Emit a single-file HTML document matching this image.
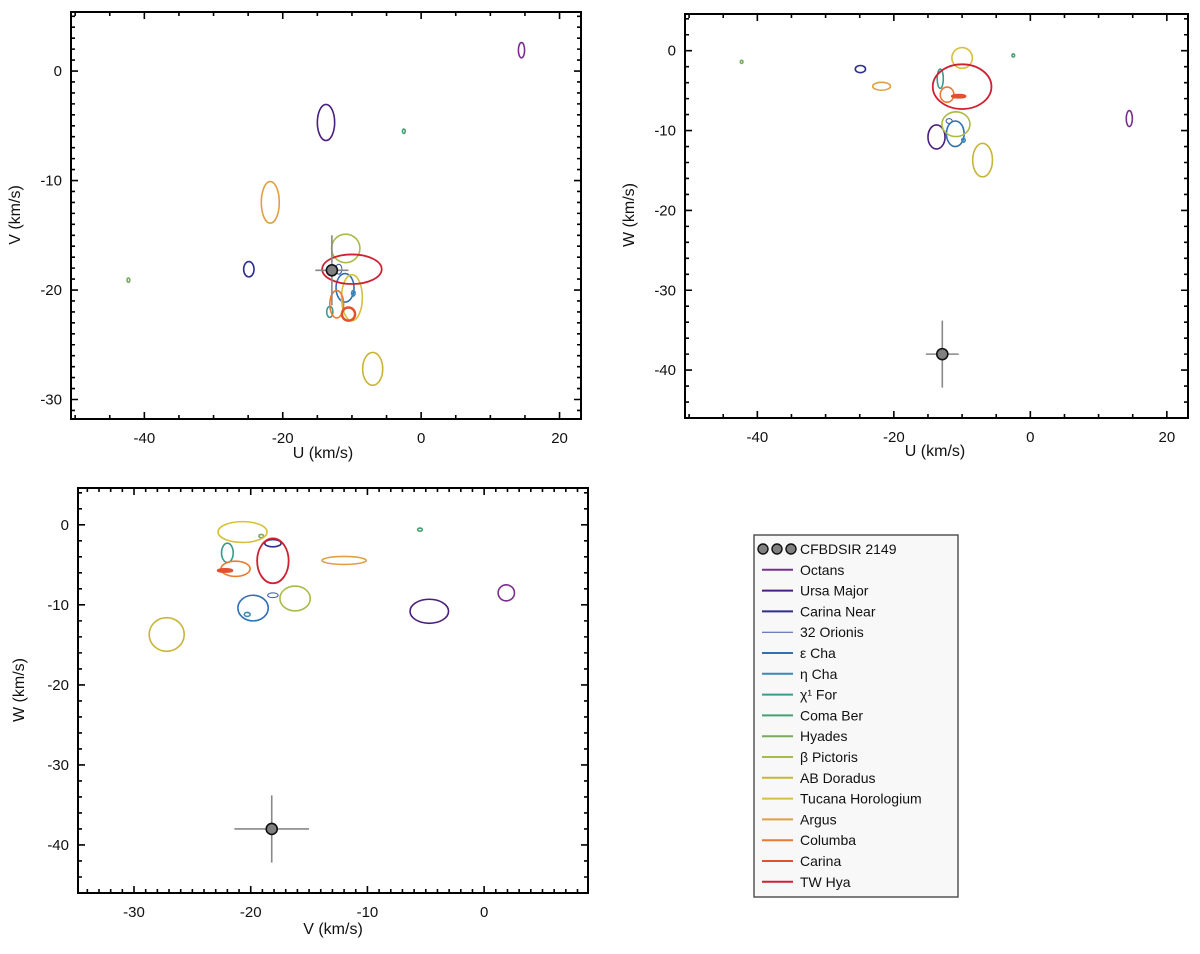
<!DOCTYPE html>
<html><head><meta charset="utf-8"><style>
html,body{margin:0;padding:0;background:#fff;}
svg{display:block;font-family:"Liberation Sans",Arial,sans-serif;}
</style></head><body>
<svg id="fig" width="1200" height="954" viewBox="0 0 1200 954" xmlns="http://www.w3.org/2000/svg"></svg>
<script>
// ---- data (km/s) ----
const groups = ["Octans","Ursa Major","Carina Near","32 Orionis","\u03b5 Cha","\u03b7 Cha","\u03c71 For","Coma Ber","Hyades","\u03b2 Pictoris","AB Doradus","Tucana Horologium","Argus","Columba","Carina","TW Hya"];
const groupU = [14.5,-13.75,-24.9,-11.9,-11.0,-9.8,-13.2,-2.5,-42.3,-10.9,-7.0,-10.0,-21.8,-12.2,-10.5,-10.0];
const groupV = [1.9,-4.7,-18.1,-18.1,-19.8,-20.3,-22.0,-5.5,-19.1,-16.2,-27.2,-20.7,-12.0,-21.3,-22.2,-18.1];
const groupW = [-8.5,-10.8,-2.3,-8.8,-10.4,-11.2,-3.5,-0.6,-1.4,-9.2,-13.7,-0.9,-4.45,-5.5,-5.7,-4.5];
const sigU = [0.45,1.25,0.75,0.45,1.3,0.25,0.45,0.2,0.2,2.05,1.45,1.5,1.3,1.0,0.95,4.3];
const sigV = [0.7,1.65,0.7,0.45,1.3,0.25,0.5,0.2,0.2,1.3,1.5,2.1,1.9,1.25,0.6,1.35];
const sigW = [1.0,1.5,0.45,0.3,1.6,0.25,1.2,0.2,0.2,1.55,2.1,1.3,0.5,0.95,0.15,2.8];
const groupColors = ["#7b2d8e","#4a1e7c","#2c2f8c","#3a58a8","#2f6fb5","#3c88b4","#3a9a8e","#45a070","#7aaa60","#a9ba45","#c9b534","#d8bf3c","#e0a042","#e97a2f","#e2502e","#cf2030"];
const groupWidths = [1.6,1.6,1.6,1.0,1.6,1.6,1.6,1.6,1.6,1.6,1.6,1.6,1.6,1.6,2.5,1.8];
const targetUVW = [-12.9,-18.2,-38.0];
const targetErr = [2.4,3.2,4.2];
const legendLabels = ["CFBDSIR 2149","Octans","Ursa Major","Carina Near","32 Orionis","\u03b5 Cha","\u03b7 Cha","\u03c7\u00b9 For","Coma Ber","Hyades","\u03b2 Pictoris","AB Doradus","Tucana Horologium","Argus","Columba","Carina","TW Hya"];

const NS = "http://www.w3.org/2000/svg";
const svg = document.getElementById("fig");
function mk(tag, attrs, parent){const e=document.createElementNS(NS,tag);for(const k in attrs)e.setAttribute(k,attrs[k]);(parent||svg).appendChild(e);return e;}

const panels = [
  {id:"uv", px0:71, px1:581, py0:12, py1:419, xmin:-50.6, xmax:23.1, ymin:-31.78, ymax:5.39, xMaj:20, xMin:5, yMaj:10, yMin:1, xi:0, yi:1, xt:"U (km/s)", yt:"V (km/s)", xtx:323, xty:458, ytx:20, yty:215},
  {id:"uw", px0:685, px1:1188, py0:14, py1:418, xmin:-50.6, xmax:23.1, ymin:-46, ymax:4.6, xMaj:20, xMin:5, yMaj:10, yMin:2, xi:0, yi:2, xt:"U (km/s)", yt:"W (km/s)", xtx:935, xty:456, ytx:634, yty:215},
  {id:"vw", px0:78, px1:588, py0:488, py1:893, xmin:-34.8, xmax:8.9, ymin:-46, ymax:4.6, xMaj:10, xMin:1, yMaj:10, yMin:2, xi:1, yi:2, xt:"V (km/s)", yt:"W (km/s)", xtx:333, xty:934, ytx:24, yty:690}
];
const dataArr = [groupU, groupV, groupW];
const sigArr = [sigU, sigV, sigW];

panels.forEach(p=>{
  const sx = v => p.px0 + (v-p.xmin)/(p.xmax-p.xmin)*(p.px1-p.px0);
  const sy = v => p.py1 - (v-p.ymin)/(p.ymax-p.ymin)*(p.py1-p.py0);
  const kx = (p.px1-p.px0)/(p.xmax-p.xmin), ky=(p.py1-p.py0)/(p.ymax-p.ymin);
  const g = mk("g",{});
  
  
  const cp = mk("clipPath",{id:"clip-"+p.id},g);
  mk("rect",{x:p.px0,y:p.py0,width:p.px1-p.px0,height:p.py1-p.py0},cp);
  const plot = mk("g",{"clip-path":"url(#clip-"+p.id+")"},g);
  
  
  for(let i=0;i<groups.length;i++){
    const e = mk("ellipse",{cx:sx(dataArr[p.xi][i]),cy:sy(dataArr[p.yi][i]),rx:Math.max(sigArr[p.xi][i]*kx,1),ry:Math.max(sigArr[p.yi][i]*ky,1),fill:"none",stroke:groupColors[i],"stroke-width":groupWidths[i]},plot);
    
    
  }
  const tx=sx(targetUVW[p.xi]), ty=sy(targetUVW[p.yi]);
  const ex=targetErr[p.xi]*kx, ey=targetErr[p.yi]*ky;
  const eb = mk("path",{d:`M${tx-ex},${ty}H${tx+ex}M${tx},${ty-ey}V${ty+ey}`,stroke:"#888",fill:"none","stroke-width":1.6},plot);
  
  
  const tp = mk("circle",{cx:tx,cy:ty,r:5.5,fill:"#808080",stroke:"#111","stroke-width":1.6},plot);
  
  
  let d="";
  const eps=1e-6;
  for(let v=Math.ceil(p.xmin/p.xMin)*p.xMin; v<=p.xmax+eps; v+=p.xMin){
    const x=sx(v); const maj=Math.abs(v/p.xMaj-Math.round(v/p.xMaj))<eps; const L=maj?7:4;
    d+=`M${x},${p.py1}v${-L}M${x},${p.py0}v${L}`;
    if(maj){const t=mk("text",{x:x,y:p.py1+24,"text-anchor":"middle","font-size":15,fill:"#111"},g);t.textContent=Math.round(v);
      
      }
  }
  for(let v=Math.ceil(p.ymin/p.yMin)*p.yMin; v<=p.ymax+eps; v+=p.yMin){
    const y=sy(v); const maj=Math.abs(v/p.yMaj-Math.round(v/p.yMaj))<eps; const L=maj?7:4;
    d+=`M${p.px0},${y}h${L}M${p.px1},${y}h${-L}`;
    if(maj){const t=mk("text",{x:p.px0-9,y:y+5,"text-anchor":"end","font-size":15,fill:"#111"},g);t.textContent=Math.round(v);
      
      }
  }
  const tk = mk("path",{d:d,stroke:"#000","stroke-width":1.6,fill:"none"},g);
  
  
  const fr = mk("rect",{x:p.px0,y:p.py0,width:p.px1-p.px0,height:p.py1-p.py0,fill:"none",stroke:"#000","stroke-width":2},g);
  
  
  const xt = mk("text",{x:p.xtx,y:p.xty,"text-anchor":"middle","font-size":16,fill:"#111"},g); xt.textContent=p.xt;
  
  
  const yt = mk("text",{x:p.ytx,y:p.yty,"text-anchor":"middle","font-size":16,fill:"#111",transform:`rotate(-90 ${p.ytx} ${p.yty})`},g); yt.textContent=p.yt;
  
  
});

const lg = mk("g",{});


mk("rect",{x:754,y:535,width:204,height:362,fill:"#f8f8f8",stroke:"#555","stroke-width":1.5},lg);
for(let i=0;i<legendLabels.length;i++){
  const y=549+i*20.8;
  const it = mk("g",{},lg);
  
  
  if(i===0){
    [763,777,791].forEach(cx=>mk("circle",{cx:cx,cy:y,r:5,fill:"#808080",stroke:"#111","stroke-width":1.4},it));
  } else {
    mk("line",{x1:762,x2:793,y1:y,y2:y,stroke:groupColors[i-1],"stroke-width":i===4?1:2},it);
  }
  const t=mk("text",{x:800,y:y+5,"font-size":14,fill:"#111"},it);
  t.textContent=legendLabels[i];
}
</script>
</body></html>
